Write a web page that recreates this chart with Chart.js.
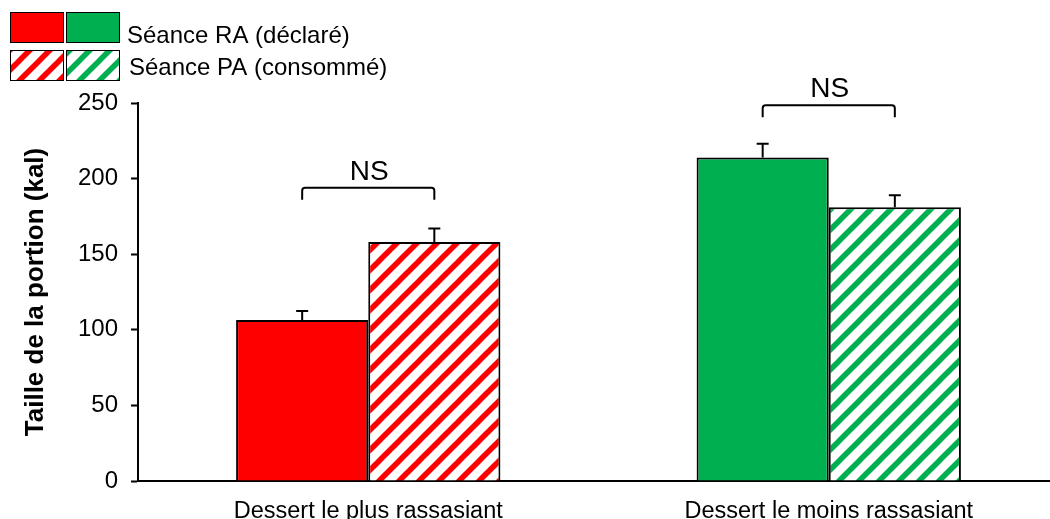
<!DOCTYPE html>
<html><head><meta charset="utf-8">
<script src="https://cdn.jsdelivr.net/npm/chart.js@4"></script>
<style>html,body{margin:0;padding:0;overflow:hidden;background:#fff;} #wrap{width:1059px;height:519px;}</style>
</head><body><div id="wrap"><canvas id="c" width="1059" height="519"></canvas></div>
<script>
// ---- data ----
const categories = ['Dessert le plus rassasiant', 'Dessert le moins rassasiant'];
const seriesNames = ['Séance RA (déclaré)', 'Séance PA (consommé)'];
const raValues = [106.5, 214];
const raErrors = [6, 9];
const paValues = [158, 181];
const paErrors = [9, 8];
const yMin = 0, yMax = 250, yStep = 50;
const yTitle = 'Taille de la portion (kal)';
const bracketLevels = [194, 248.5];
const bracketLabels = ['NS', 'NS'];

// ---- styles ----
const RED = '#FF0000', GREEN = '#00B050';
const FONT = "'Liberation Sans', Arial, sans-serif";

const canvas = document.getElementById('c');
const ctx = canvas.getContext('2d');

function makePattern(color) {
  const P = 20;
  const c = document.createElement('canvas');
  c.width = P; c.height = P;
  const x = c.getContext('2d');
  x.fillStyle = '#fff'; x.fillRect(0, 0, P, P);
  x.strokeStyle = color; x.lineWidth = 5.5;
  for (let k = 0; k <= 2; k++) {
    const s = k * P; // line x + y = s
    x.beginPath(); x.moveTo(-P, s + P); x.lineTo(2 * P, s - 2 * P); x.stroke();
  }
  return ctx.createPattern(c, 'repeat');
}
const redPat = makePattern(RED), greenPat = makePattern(GREEN);
const solidFills = [RED, GREEN];
const hatchFills = [redPat, greenPat];
const errorSets = [raErrors, paErrors];

const annot = {
  id: 'annot',
  afterDatasetsDraw(chart) {
    const c = chart.ctx, ys = chart.scales.y;
    c.save();
    c.strokeStyle = '#000'; c.lineWidth = 2; c.lineCap = 'butt';
    chart.data.datasets.forEach((ds, i) => {
      const meta = chart.getDatasetMeta(i);
      meta.data.forEach((bar, j) => {
        const yTop = ys.getPixelForValue(ds.data[j]);
        const yErr = ys.getPixelForValue(ds.data[j] + errorSets[i][j]);
        c.beginPath();
        c.moveTo(bar.x, yTop); c.lineTo(bar.x, yErr);
        c.moveTo(bar.x - 6, yErr); c.lineTo(bar.x + 6, yErr);
        c.stroke();
      });
    });
    const m0 = chart.getDatasetMeta(0), m1 = chart.getDatasetMeta(1);
    bracketLevels.forEach((lv, j) => {
      const x1 = m0.data[j].x, x2 = m1.data[j].x;
      const yb = ys.getPixelForValue(lv);
      const h = 12, r = 3;
      c.beginPath();
      c.moveTo(x1, yb + h); c.lineTo(x1, yb + r);
      c.arcTo(x1, yb, x1 + r, yb, r);
      c.lineTo(x2 - r, yb);
      c.arcTo(x2, yb, x2, yb + r, r);
      c.lineTo(x2, yb + h);
      c.stroke();
      c.fillStyle = '#000';
      c.font = '28px ' + FONT;
      c.textAlign = 'center'; c.textBaseline = 'alphabetic';
      c.fillText(bracketLabels[j], (x1 + x2) / 2 + 1, yb - 8);
    });
    c.restore();
  },
  afterDraw(chart) {
    const c = chart.ctx;
    c.save();
    const rows = [
      { fills: solidFills, y: 12, textX: 127, base: 43 },
      { fills: hatchFills, y: 50, textX: 129, base: 75 }
    ];
    rows.forEach((row, i) => {
      row.fills.forEach((f, k) => {
        const bx = 10 + k * 56;
        c.fillStyle = f;
        c.fillRect(bx, row.y, 54, 31);
        c.strokeStyle = '#000'; c.lineWidth = 1;
        c.strokeRect(bx + 0.5, row.y + 0.5, 53, 30);
      });
      c.fillStyle = '#000';
      c.font = '24px ' + FONT;
      c.textAlign = 'left'; c.textBaseline = 'alphabetic';
      c.fillText(seriesNames[i], row.textX, row.base);
    });
    c.restore();
  }
};

new Chart(ctx, {
  type: 'bar',
  data: {
    labels: categories,
    datasets: [
      { label: seriesNames[0], data: raValues, backgroundColor: solidFills, borderColor: '#000', borderWidth: 2 },
      { label: seriesNames[1], data: paValues, backgroundColor: hatchFills, borderColor: '#000', borderWidth: 2 }
    ]
  },
  options: {
    responsive: false,
    animation: false,
    layout: { padding: { top: 103, left: 0, right: 0, bottom: 0 } },
    categoryPercentage: 0.574,
    barPercentage: 1,
    plugins: { legend: { display: false }, tooltip: { enabled: false } },
    scales: {
      x: {
        grid: { display: false, drawTicks: false },
        border: { display: true, color: '#000', width: 2 },
        ticks: { color: '#000', font: { family: FONT, size: 23.5 }, padding: 16 },
        afterFit(s) { s.height = 38; }
      },
      y: {
        min: yMin, max: yMax,
        ticks: { stepSize: yStep, color: '#000', font: { family: FONT, size: 24 }, padding: 13 },
        grid: { drawOnChartArea: false, drawTicks: true, tickLength: 7, tickColor: '#000', tickWidth: 2 },
        border: { display: true, color: '#000', width: 2 },
        title: { display: true, text: yTitle, color: '#000', font: { family: FONT, size: 26, weight: 'bold' }, padding: { top: 20, bottom: 0 } },
        afterFit(s) { s.width = 138; }
      }
    }
  },
  plugins: [annot]
});
</script>
</body></html>
